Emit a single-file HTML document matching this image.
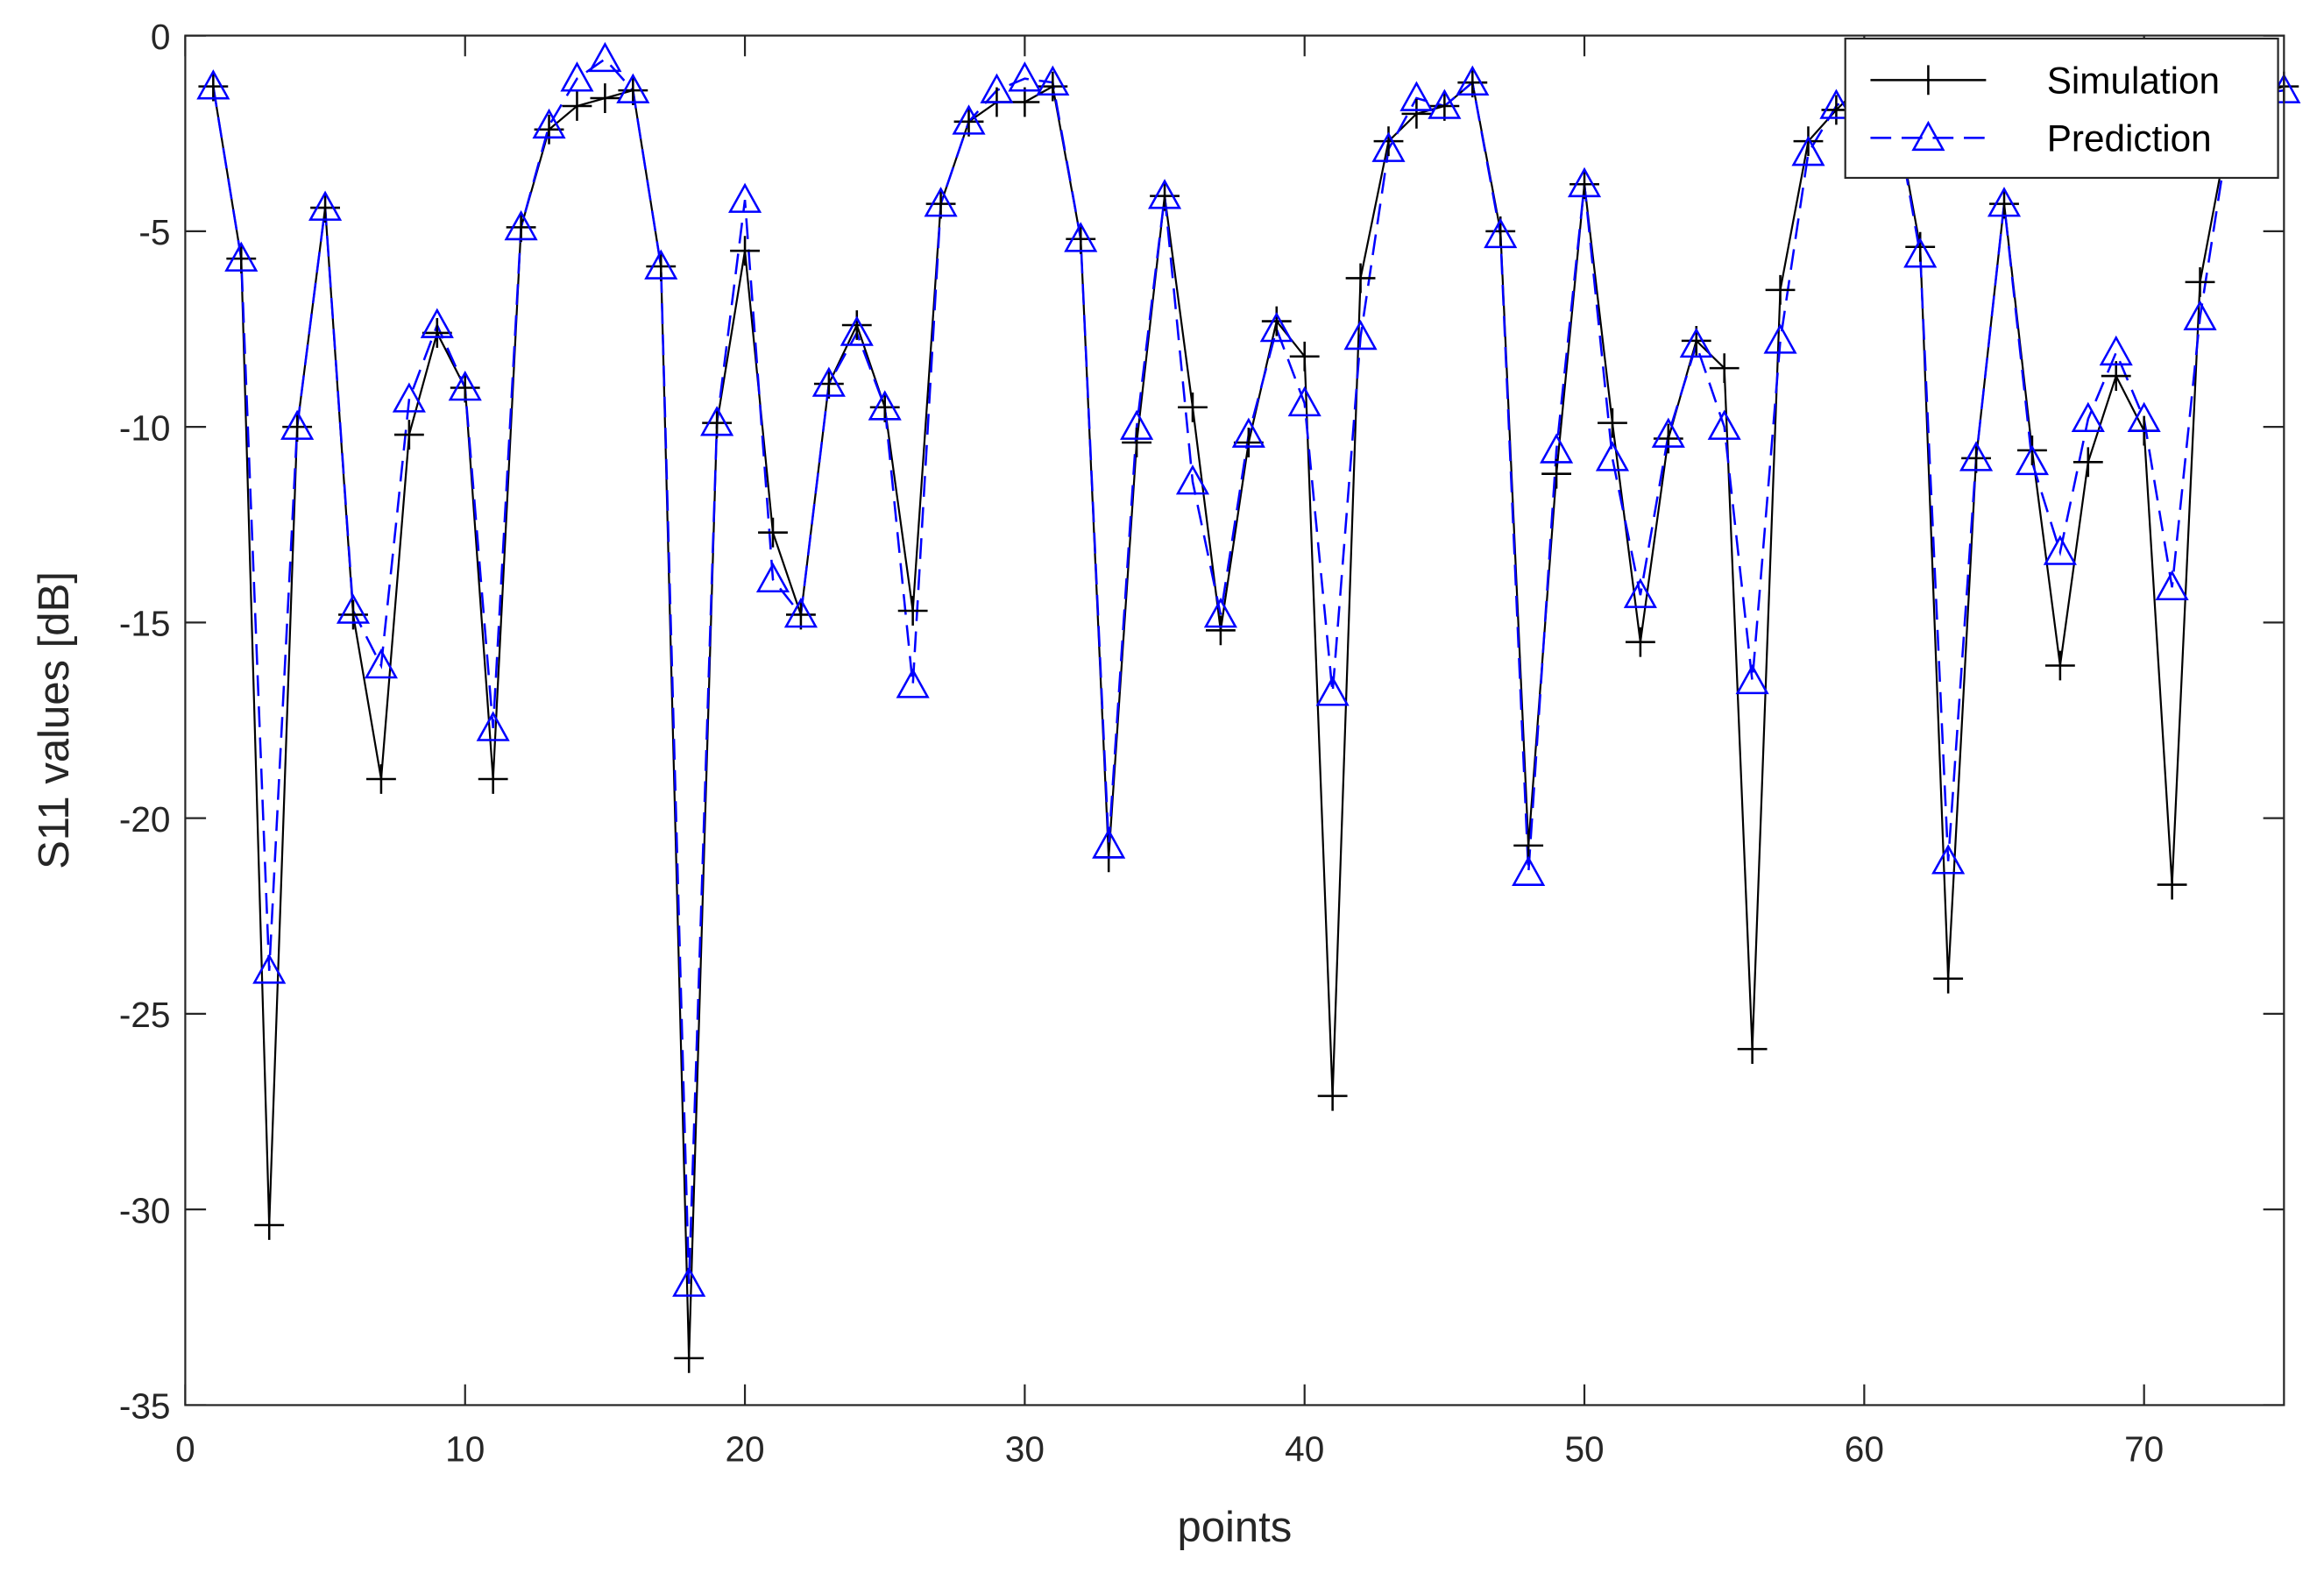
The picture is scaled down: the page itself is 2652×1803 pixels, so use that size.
<!DOCTYPE html>
<html><head><meta charset="utf-8"><style>
html,body{margin:0;padding:0;background:#fff;}
svg{display:block;font-family:"Liberation Sans",Arial,sans-serif;}
</style></head><body>
<svg id="chart" width="2652" height="1803" viewBox="0 0 1568 1066" preserveAspectRatio="none" xmlns="http://www.w3.org/2000/svg">
<rect x="0" y="0" width="1568" height="1066" fill="#fff"/>
<g id="grid"></g>
<g id="series"></g>
<g id="axes"></g>
</svg>
<script>
const points = Array.from({length:75},(_, i)=>i+1);
const simulation = [-1.3,-5.7,-30.4,-10,-4.4,-14.8,-19,-10.2,-7.6,-9,-19,-4.9,-2.4,-1.8,-1.6,-1.4,-5.9,-33.8,-9.9,-5.5,-12.7,-14.8,-8.9,-7.4,-9.5,-14.7,-4.3,-2.2,-1.7,-1.7,-1.3,-5.2,-21,-10.4,-4.1,-9.5,-15.2,-10.4,-7.3,-8.2,-27.1,-6.2,-2.7,-2,-1.8,-1.2,-5,-20.7,-11.2,-3.8,-9.9,-15.5,-10.3,-7.8,-8.5,-25.9,-6.5,-2.7,-1.9,-1.2,-1.5,-5.4,-24.1,-10.8,-4.3,-10.6,-16.1,-10.9,-8.7,-10.1,-21.7,-6.3,-2.5,-1.5,-1.3];
const prediction = [-1.3,-5.7,-23.9,-10,-4.4,-14.7,-16.1,-9.3,-7.4,-9,-17.7,-4.9,-2.3,-1.1,-0.6,-1.4,-5.9,-31.9,-9.9,-4.2,-13.9,-14.8,-8.9,-7.6,-9.5,-16.6,-4.3,-2.2,-1.4,-1.1,-1.2,-5.2,-20.7,-10,-4.1,-11.4,-14.8,-10.2,-7.5,-9.4,-16.8,-7.7,-2.9,-1.6,-1.8,-1.2,-5.1,-21.4,-10.6,-3.8,-10.8,-14.3,-10.2,-7.9,-10,-16.5,-7.8,-3,-1.8,-1.2,-1.5,-5.6,-21.1,-10.8,-4.3,-10.9,-13.2,-9.8,-8.1,-9.8,-14.1,-7.2,-2.6,-1.5,-1.4];
const xTicks = [0,10,20,30,40,50,60,70];
const yTicks = [0,-5,-10,-15,-20,-25,-30,-35];

const X0=125,X1=1541,Y0=24,Y1=948;
const xs=v=>X0+(v-0)/(75-0)*(X1-X0);
const ys=v=>Y0+(0-v)/(0-(-35))*(Y1-Y0);
const NS="http://www.w3.org/2000/svg";
function mk(tag,attrs,parent){const e=document.createElementNS(NS,tag);for(const k in attrs)e.setAttribute(k,attrs[k]);parent.appendChild(e);return e;}
const svg=document.getElementById('chart');
const ser=document.getElementById('series');
const axes=document.getElementById('axes');

// simulation line
let d=simulation.map((v,i)=>(i?'L':'M')+xs(points[i])+' '+ys(v)).join(' ');
let l=mk('path',{d:d,fill:'none',stroke:'#000','stroke-width':1.3},ser);


// prediction line
d=prediction.map((v,i)=>(i?'L':'M')+xs(points[i])+' '+ys(v)).join(' ');
l=mk('path',{d:d,fill:'none',stroke:'#0000ff','stroke-width':1.5,'stroke-dasharray':'14,7'},ser);


simulation.forEach((v,i)=>{
  const x=xs(points[i]),y=ys(v),s=10;
  const m=mk('path',{d:`M${x-s} ${y}H${x+s}M${x} ${y-s}V${y+s}`,stroke:'#000','stroke-width':1.5},ser);
  
  
});
prediction.forEach((v,i)=>{
  const x=xs(points[i]),y=ys(v),s=10;
  const m=mk('path',{d:`M${x} ${y-s}L${x+s} ${y+8}L${x-s} ${y+8}Z`,fill:'none',stroke:'#0000ff','stroke-width':1.5},ser);
  
  
});

// axes box
const box=mk('rect',{x:X0,y:Y0,width:X1-X0,height:Y1-Y0,fill:'none',stroke:'#262626','stroke-width':1.3},axes);


xTicks.forEach(t=>{
  const x=xs(t);
  mk('path',{d:`M${x} ${Y1}V${Y1-14}M${x} ${Y0}V${Y0+14}`,stroke:'#262626','stroke-width':1.3},axes);
  const tx=mk('text',{x:x,y:Y1+38,'text-anchor':'middle','font-size':24,fill:'#262626'},axes);
  tx.textContent=t;
  
  
});
yTicks.forEach(t=>{
  const y=ys(t);
  mk('path',{d:`M${X0} ${y}H${X0+14}M${X1} ${y}H${X1-14}`,stroke:'#262626','stroke-width':1.3},axes);
  const tx=mk('text',{x:X0-10,y:y+9,'text-anchor':'end','font-size':24,fill:'#262626'},axes);
  tx.textContent=t;
  
  
});
let t=mk('text',{x:(X0+X1)/2,y:1040,'text-anchor':'middle','font-size':29,fill:'#262626'},axes);
t.textContent='points';


t=mk('text',{x:0,y:0,'text-anchor':'middle','font-size':29,fill:'#262626',transform:`translate(46 ${(Y0+Y1)/2}) rotate(-90)`},axes);
t.textContent='S11 values [dB]';



// legend
const lg=mk('g',{},axes);


mk('rect',{x:1245,y:26,width:292,height:94,fill:'#fff',stroke:'#262626','stroke-width':1.3},lg);
mk('path',{d:'M1262 54H1340M1301 44V64',stroke:'#000','stroke-width':1.5},lg);
mk('path',{d:'M1262 93H1340',stroke:'#0000ff','stroke-width':1.5,'stroke-dasharray':'14,7'},lg);
mk('path',{d:'M1301 83L1311 101L1291 101Z',fill:'none',stroke:'#0000ff','stroke-width':1.5},lg);
t=mk('text',{x:1381,y:63,'font-size':25,fill:'#000'},lg);t.textContent='Simulation';


t=mk('text',{x:1381,y:102,'font-size':25,fill:'#000'},lg);t.textContent='Prediction';


</script>
</body></html>
